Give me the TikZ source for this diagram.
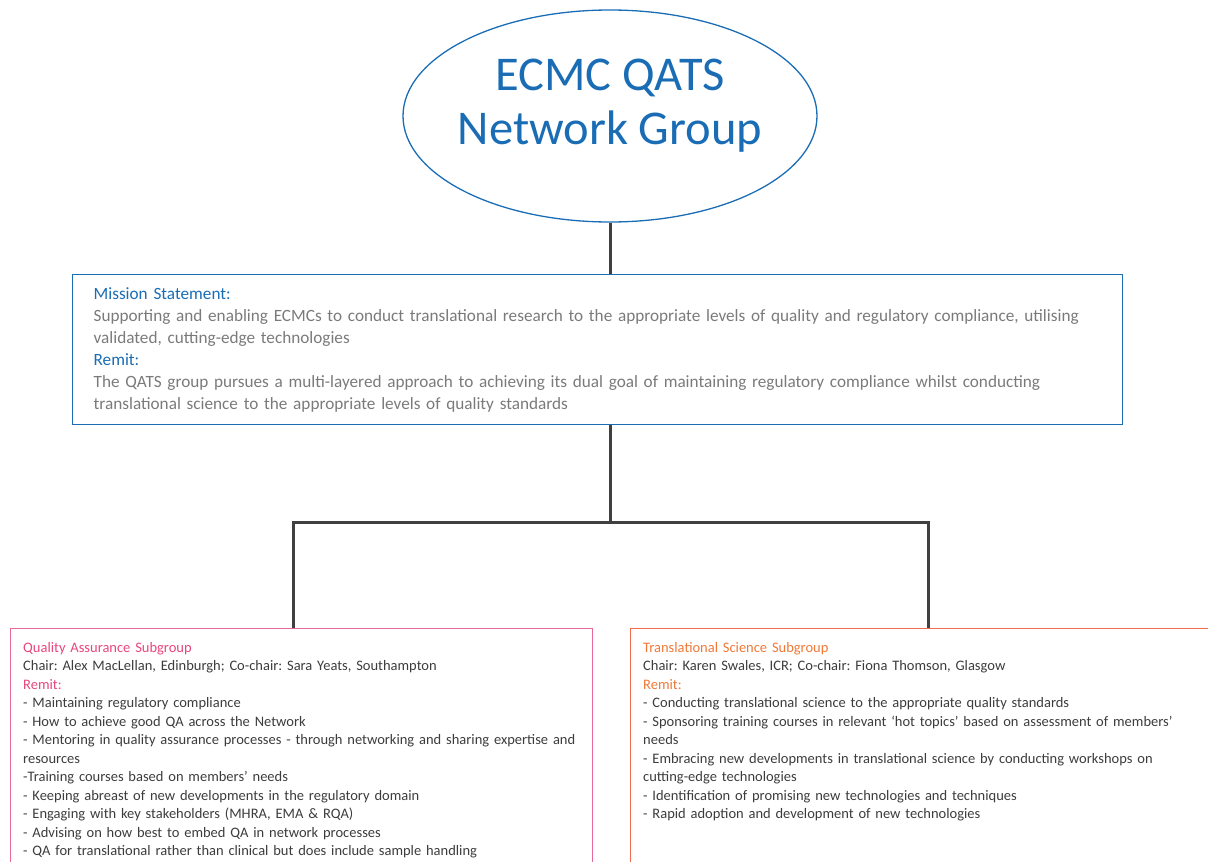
\documentclass[tikz,border=0pt]{standalone}
\usepackage{fontspec}
\setmainfont{Carlito}
\frenchspacing
\usetikzlibrary{shapes.geometric}
\definecolor{qatsblue}{HTML}{1A6DB5}
\definecolor{linkgray}{HTML}{404040}
\definecolor{bodygray}{HTML}{7A7A7A}
\definecolor{listgray}{HTML}{3C3C3C}
\definecolor{qapink}{HTML}{E8457E}
\definecolor{qaborder}{HTML}{E8689A}
\definecolor{tsorange}{HTML}{F07838}
\definecolor{tsborder}{HTML}{F06A50}
\begin{document}
\begin{tikzpicture}[x=1pt,y=-1pt]
    \tikzstyle{link}=[draw=linkgray,line width=3pt]
    \tikzstyle{title}=[ellipse,draw=qatsblue,line width=1.3pt,minimum width=414pt,minimum height=212pt]
    \tikzstyle{panel}=[draw,line width=1.3pt,anchor=north west]
    \tikzstyle{sublist}=[anchor=north west,text width=560pt,align=left,inner sep=0pt,
        text=listgray,font=\fontsize{14.5}{18.5}\selectfont]
    \useasboundingbox (0,0) rectangle (1208,862);
    \node[title] (top) at (610,116) {};
    \node[text=qatsblue,align=center,font=\fontsize{48.5}{54}\selectfont] (toptext) at (610,106)
        {ECMC QATS\\Network Group};
    \node[panel,draw=qatsblue,minimum width=1050pt,minimum height=150pt,text width=1008pt,
        inner xsep=21pt,align=left,text=bodygray,font=\fontsize{17.2}{22}\selectfont] (mission) at (72,274)
        {{\color{qatsblue}Mission Statement:}\\
        Supporting and enabling ECMCs to conduct translational research to the appropriate levels of quality and regulatory compliance, utilising\\
        validated, cutting-edge technologies\\
        {\color{qatsblue}Remit:}\\
        The QATS group pursues a multi-layered approach to achieving its dual goal of maintaining regulatory compliance whilst conducting\\
        translational science to the appropriate levels of quality standards};
    \node[panel,draw=qaborder,minimum width=582pt,minimum height=260pt] (qa) at (10,628) {};
    \node[panel,draw=tsborder,minimum width=600pt,minimum height=260pt] (ts) at (630,628) {};
    \node[sublist] (qatext) at (23,642)
        {{\color{qapink}Quality Assurance Subgroup}\\
        Chair: Alex MacLellan, Edinburgh; Co-chair: Sara Yeats, Southampton\\
        {\color{qapink}Remit:}\\
        - Maintaining regulatory compliance\\
        - How to achieve good QA across the Network\\
        - Mentoring in quality assurance processes - through networking and sharing expertise and\\
        resources\\
        -Training courses based on members' needs\\
        - Keeping abreast of new developments in the regulatory domain\\
        - Engaging with key stakeholders (MHRA, EMA \& RQA)\\
        - Advising on how best to embed QA in network processes\\
        - QA for translational rather than clinical but does include sample handling};
    \node[sublist] (tstext) at (643,642)
        {{\color{tsorange}Translational Science Subgroup}\\
        Chair: Karen Swales, ICR; Co-chair: Fiona Thomson, Glasgow\\
        {\color{tsorange}Remit:}\\
        - Conducting translational science to the appropriate quality standards\\
        - Sponsoring training courses in relevant `hot topics' based on assessment of members'\\
        needs\\
        - Embracing new developments in translational science by conducting workshops on\\
        cutting-edge technologies\\
        - Identification of promising new technologies and techniques\\
        - Rapid adoption and development of new technologies};
    % tree connectors
    \coordinate (lj) at (293,522);
    \coordinate (rj) at (928,522);
    \draw[link] (top.south) -- (top.south |- mission.north);
    \draw[link] (top.south |- mission.south) -- (top.south |- lj);
    \draw[link] (qa.north -| lj) -- (lj) -- (rj) -- (rj |- ts.north);
\end{tikzpicture}
\end{document}
